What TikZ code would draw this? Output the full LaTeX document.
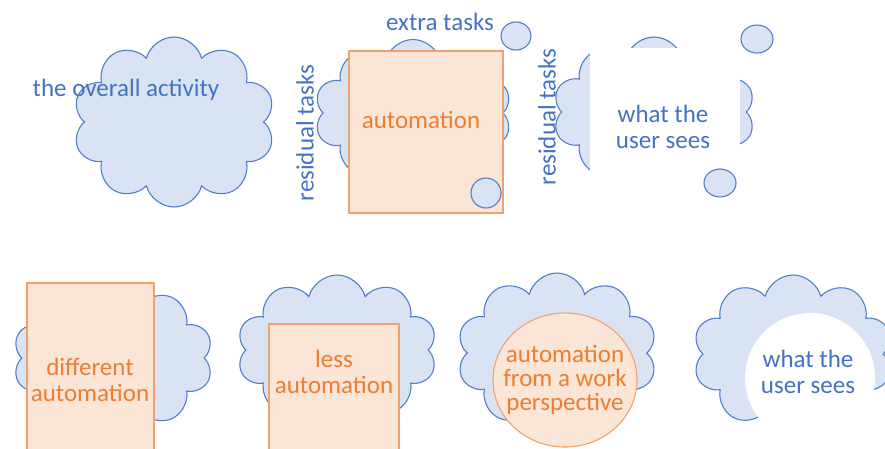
\documentclass[tikz,border=0pt]{standalone}
\usepackage{fontspec}
\setmainfont{Carlito}
\usetikzlibrary{shapes.symbols,shapes.geometric}
\definecolor{cloudfill}{HTML}{DAE3F3}
\definecolor{cloudline}{HTML}{4F7FCC}
\definecolor{bluetext}{HTML}{4472C4}
\definecolor{autofill}{HTML}{FBE5D6}
\definecolor{autoline}{HTML}{F1A26C}
\definecolor{orangetext}{HTML}{ED7D31}
\begin{document}
\begin{tikzpicture}[x=1pt,y=-1pt,
  activity/.style={cloud, cloud puffs=10, draw=cloudline, fill=cloudfill, line width=1.1pt, inner sep=0pt},
  bubble/.style={ellipse, draw=cloudline, fill=cloudfill, line width=1.1pt, inner sep=0pt},
  autobox/.style={draw=autoline, fill=autofill, line width=1.1pt},
  bluelabel/.style={text=bluetext, font=\fontsize{25}{26}\selectfont, align=center, inner sep=0pt},
  orangelabel/.style={text=orangetext, font=\fontsize{25}{26}\selectfont, align=center, inner sep=0pt}]
  \clip (0,0) rectangle (885,448);

  % top row
  \node[activity, minimum width=202pt, minimum height=170pt] (overall) at (174,122) {};
  \node[bluelabel] (overalltext) at (126,90) {the overall activity};

  \node[activity, minimum width=197pt, minimum height=147pt] (work) at (413,113) {};
  \node[bubble, minimum width=30pt, minimum height=28pt] (extra) at (516,36) {};
  \filldraw[autobox] (349,51) rectangle (503,213);
  \node[orangelabel] (autotext) at (421,120) {automation};
  \node[bubble, minimum width=30pt, minimum height=30pt] (inside) at (486,193) {};
  \node[bluelabel] (extratext) at (440,22) {extra tasks};
  \node[bluelabel, rotate=90] (residualA) at (305,133) {residual tasks};

  \node[activity, minimum width=202pt, minimum height=150pt] (userwork) at (654,112) {};
  \fill[white] (590,48) rectangle (740,205);
  \node[bubble, minimum width=32pt, minimum height=28pt] (extraB) at (757,39) {};
  \node[bubble, minimum width=32pt, minimum height=28pt] (insideB) at (720,183) {};
  \node[bluelabel, rotate=90] (residualB) at (547,117) {residual tasks};
  \node[bluelabel] (seesA) at (663,127) {what the\\user sees};

  % bottom row
  \node[activity, minimum width=200pt, minimum height=150pt] (cloudD) at (113,358) {};
  \filldraw[autobox] (27,283) rectangle (154,470);
  \node[orangelabel] (different) at (90,380) {different\\automation};

  \node[activity, minimum width=200pt, minimum height=150pt] (cloudE) at (337,350) {};
  \filldraw[autobox] (269,324) rectangle (399,470);
  \node[orangelabel] (less) at (334,372) {less\\automation};

  \node[activity, minimum width=200pt, minimum height=160pt] (cloudF) at (557,353) {};
  \node[ellipse, autobox, minimum width=144pt, minimum height=134pt] (perspective) at (565,380) {};
  \node[orangelabel, font=\fontsize{25}{24}\selectfont] (perspectivetext) at (565,380) {automation\\from a work\\perspective};

  \node[activity, minimum width=200pt, minimum height=158pt] (cloudG) at (793,354) {};
  \fill[white] (810,378) circle (65);
  \node[bluelabel] (seesB) at (808,372) {what the\\user sees};
\end{tikzpicture}
\end{document}
